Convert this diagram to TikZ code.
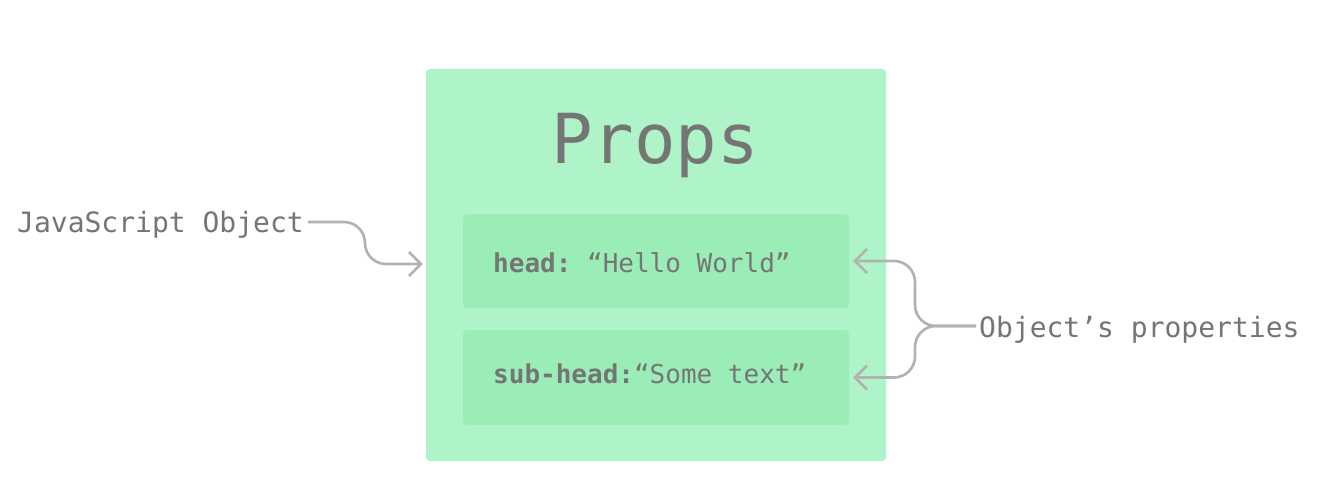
\documentclass[tikz,border=0pt]{standalone}
\usepackage{fontspec}
\setmonofont{DejaVu Sans Mono}
\usetikzlibrary{arrows.meta}
\definecolor{outerg}{RGB}{175,244,200}
\definecolor{innerg}{RGB}{155,237,184}
\definecolor{txt}{RGB}{117,117,117}
\definecolor{conn}{RGB}{178,178,178}
\tikzset{
  box/.style={fill=#1, rounded corners=4pt, draw=none},
  lbl/.style={font=\ttfamily\fontsize{28}{30}\selectfont, text=txt, inner sep=0pt, anchor=base west},
  inlbl/.style={lbl, font=\ttfamily\fontsize{26}{30}\selectfont},
  conn/.style={draw=conn, line width=2.6pt, rounded corners=21pt,
    -{Straight Barb[length=12pt,width=24pt,line width=2.6pt]}}
}
\begin{document}
\begin{tikzpicture}[x=1pt,y=-1pt]
\useasboundingbox (0,0) rectangle (1322,503);
\fill[white] (0,0) rectangle (1322,503);
\path[box=outerg] (426,69) rectangle (886,461);
\node[inner sep=0pt, minimum width=460pt, minimum height=392pt] (outer) at (656,265) {};
\path[box=innerg] (463,214) rectangle (849,308);
\path[box=innerg] (463,330) rectangle (849,425);
\node[inner sep=0pt, minimum width=386pt, minimum height=94pt] (h1) at (656,261) {};
\node[inner sep=0pt, minimum width=386pt, minimum height=95pt] (h2) at (656,377.5) {};
\node[font=\ttfamily\fontsize{69}{80}\selectfont, text=txt, inner sep=0pt, anchor=base] (title) at (655,163) {Props};
\node[inlbl] (t1) at (493,272) {\textbf{head:} “Hello World”};
\node[inlbl] (t2) at (493,383) {\textbf{sub-head:}“Some text”};
\node[lbl] (js) at (17,232) {JavaScript Object};
\node[lbl] (op) at (979,337) {Object’s properties};
\coordinate (jsend) at ([xshift=4pt,yshift=10pt]js.base east);
\coordinate (opend) at ([xshift=-3pt,yshift=11pt]op.base west);
\coordinate (tipL) at ([xshift=-3pt]outer.west |- 0,264);
\coordinate (tip1) at ([xshift=4pt]h1.east);
\coordinate (tip2) at ([xshift=4pt]h2.east);
\draw[conn] (jsend) -- (jsend -| 365,0) -- (365,264) -- (tipL);
\draw[conn] (opend) -- (opend -| 915,0) -- (915,0 |- tip1) -- (tip1);
\draw[conn] (opend) -- (opend -| 915,0) -- (915,0 |- tip2) -- (tip2);
\end{tikzpicture}
\end{document}
